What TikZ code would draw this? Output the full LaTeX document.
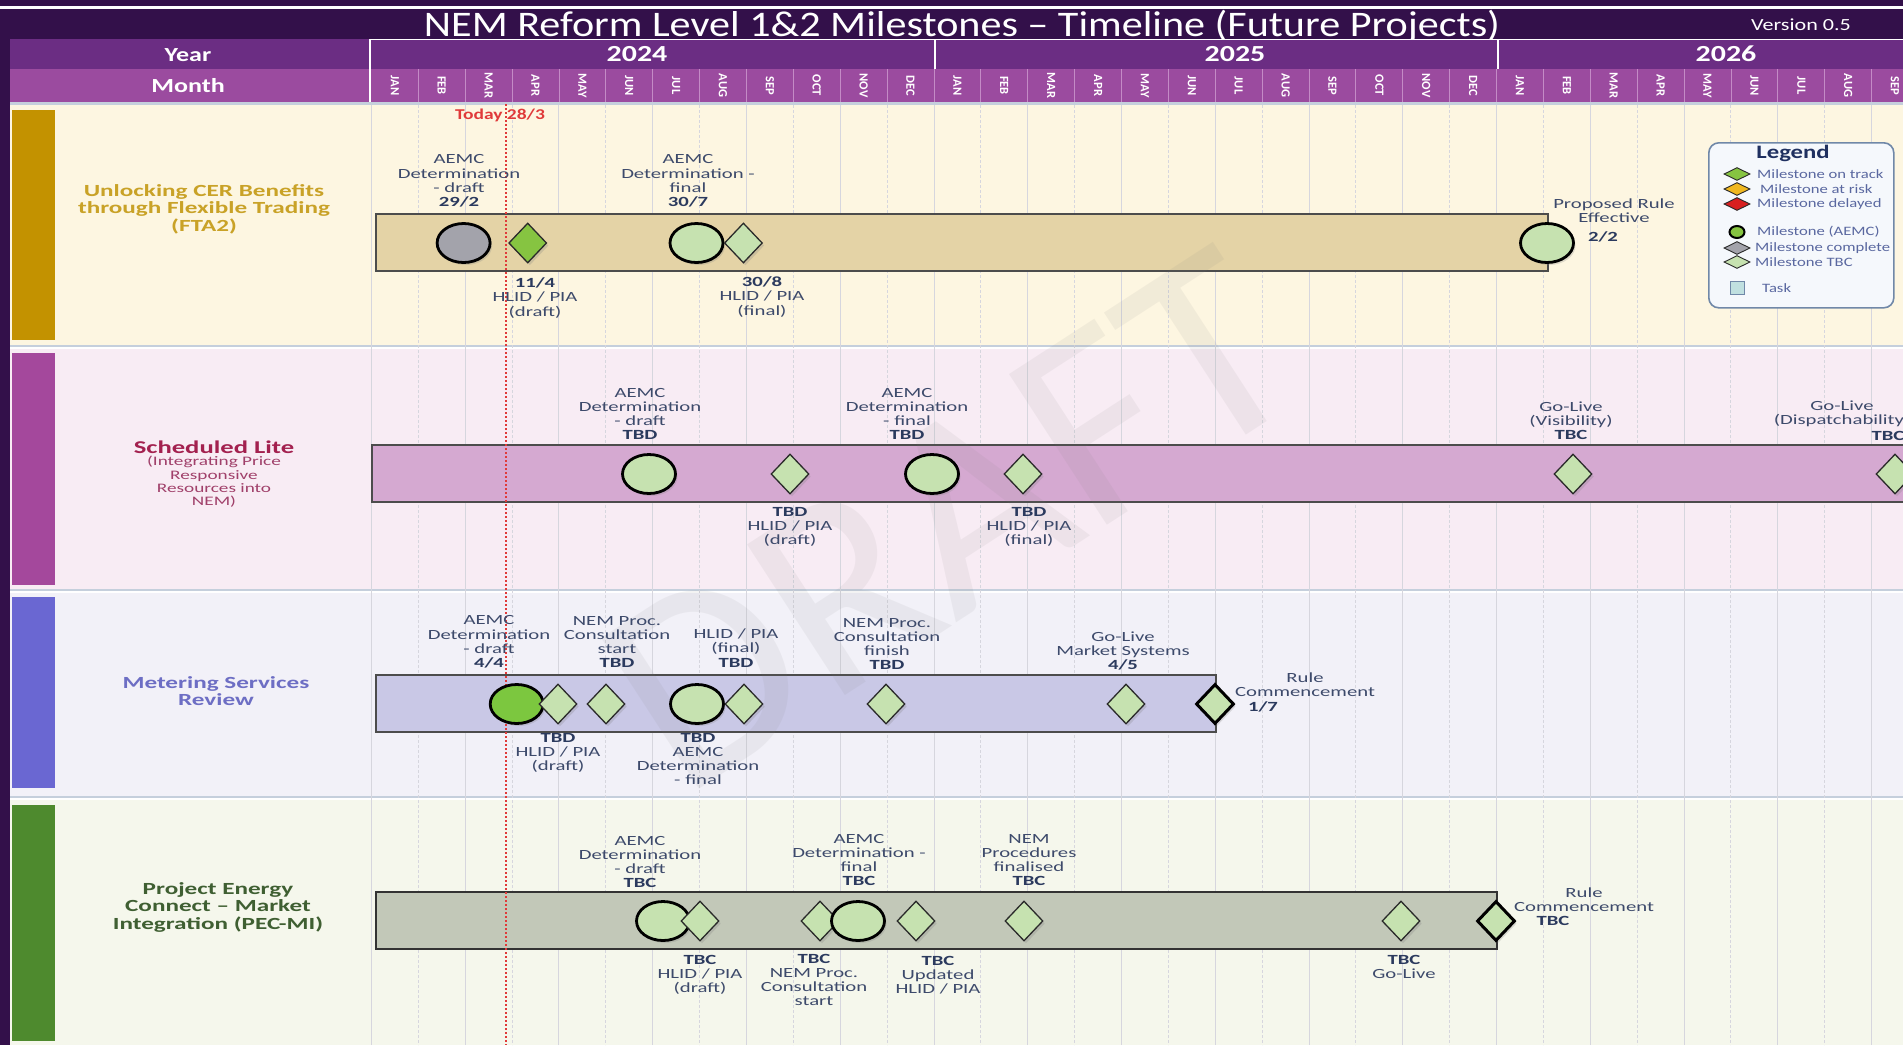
\documentclass[tikz,border=0pt]{standalone}
\usepackage{fontspec}
\setmainfont{Carlito}
\newfontfamily\wide{Carlito}[FakeStretch=1.3]
\newfontfamily\wider{Carlito}[FakeStretch=1.48]
\newfontfamily\tfont{Carlito}[FakeStretch=1.17]
\usetikzlibrary{shapes.geometric,shadows}
\definecolor{bgdark}{HTML}{33104A}
\definecolor{yearrow}{HTML}{6B2D83}
\definecolor{monthrow}{HTML}{9B4B9F}
\definecolor{monthsep}{HTML}{C48BC6}
\definecolor{rowsep}{HTML}{C5CFDC}
\definecolor{gridc}{HTML}{D6D6DE}
\definecolor{rowonebg}{HTML}{FDF6E1}
\definecolor{rowonebar}{HTML}{C39200}
\definecolor{rowonetask}{HTML}{E4D3A6}
\definecolor{rowonetxt}{HTML}{C9A227}
\definecolor{rowtwobg}{HTML}{F8ECF4}
\definecolor{rowtwobar}{HTML}{A4489C}
\definecolor{rowtwotask}{HTML}{D5A9D1}
\definecolor{rowtwotxt}{HTML}{A3214F}
\definecolor{rowtwosub}{HTML}{A0406A}
\definecolor{rowthreebg}{HTML}{F2F1F8}
\definecolor{rowthreebar}{HTML}{6A67D2}
\definecolor{rowthreetask}{HTML}{C9C8E6}
\definecolor{rowthreetxt}{HTML}{6D6EC4}
\definecolor{rowfourbg}{HTML}{F5F7EC}
\definecolor{rowfourbar}{HTML}{4E8A2E}
\definecolor{rowfourtask}{HTML}{C2C8B8}
\definecolor{rowfourtxt}{HTML}{3F5F32}
\definecolor{tbc}{HTML}{C6E2B0}
\definecolor{ontrack}{HTML}{86C441}
\definecolor{brightg}{HTML}{7CC73F}
\definecolor{greyc}{HTML}{A3A3AB}
\definecolor{atrisk}{HTML}{F0B820}
\definecolor{delayed}{HTML}{D82020}
\definecolor{msline}{HTML}{2A2A2A}
\definecolor{labc}{HTML}{3D4A6B}
\definecolor{datec}{HTML}{2B3A5E}
\definecolor{todayc}{HTML}{E03A3A}
\definecolor{legb}{HTML}{7088A8}
\definecolor{legf}{HTML}{F5F8FC}
\definecolor{legt}{HTML}{5A68A0}
\definecolor{legh}{HTML}{1F3060}
\definecolor{taskc}{HTML}{C0E0E0}
\begin{document}
\begin{tikzpicture}[x=1pt,y=-1pt,
  msshadow/.style={drop shadow={shadow xshift=2pt, shadow yshift=-2.5pt, opacity=0.25}},
  dia/.style={diamond, draw=msline, line width=1.3pt, fill=tbc, minimum width=38pt, minimum height=40pt, inner sep=0pt, msshadow},
  diathick/.style={dia, line width=3pt, draw=black},
  circ/.style={ellipse, draw=black, line width=2.8pt, fill=tbc, minimum width=53pt, minimum height=39pt, inner sep=0pt, msshadow},
  taskbar/.style={rectangle, line width=1.5pt, inner sep=0pt, minimum height=57pt, anchor=west},
  lab/.style={font=\wider\fontsize{14}{14.2}\selectfont, text=labc, align=center, inner sep=0pt},
  labdate/.style={font=\wider\bfseries\fontsize{14}{14.2}\selectfont, text=datec, inner sep=0pt},
  rowlab/.style={font=\wider\bfseries\fontsize{17}{17.5}\selectfont, align=center, inner sep=0pt},
  hdr/.style={font=\wide\bfseries\fontsize{20}{20}\selectfont, text=white, inner sep=0pt},
  yr/.style={font=\wide\bfseries\fontsize{23}{23}\selectfont, text=white, inner sep=0pt},
  legdia/.style={diamond, draw=msline, line width=0.9pt, minimum width=26pt, minimum height=13pt, inner sep=0pt},
  legtxt/.style={font=\wide\fontsize{12.8}{13}\selectfont, text=legt, anchor=west, inner sep=0pt}
]
\clip (0,0) rectangle (1903,1045);
\fill[bgdark] (0,0) rectangle (1903,1045);
\fill[white] (0,6) rectangle (1903,8.5);
% title
\node[font={\tfont\fontsize{36}{36}\selectfont}, text=white, inner sep=0pt] (title) at (962,26) {NEM Reform Level 1\&2 Milestones – Timeline (Future Projects)};
\node[font={\wide\fontsize{17}{17}\selectfont}, text=white, inner sep=0pt] (version) at (1801,25) {Version 0.5};
% header
\fill[yearrow] (10,39) rectangle (1903,69);
\fill[monthrow] (10,69) rectangle (1903,102);
\foreach \k in {1,...,33} {
  \pgfmathsetmacro\xx{371.4+46.88*\k}
  \draw[monthsep, line width=0.8pt] (\xx,69) -- (\xx,102);
}
\draw[white, line width=1.5pt] (370,39.5) -- (1903,39.5);
\draw[white, line width=2pt] (370,39) -- (370,102);
\draw[white, line width=2pt] (934.7,39) -- (934.7,69);
\draw[white, line width=2pt] (1497.9,39) -- (1497.9,69);
\node[hdr] (year) at (188,55) {Year};
\node[hdr] (month) at (188,86) {Month};
\node[yr] (y2024) at (637,54) {2024};
\node[yr] (y2025) at (1235,54) {2025};
\node[yr] (y2026) at (1726,54) {2026};
\foreach \m [count=\i from 0] in {JAN,FEB,MAR,APR,MAY,JUN,JUL,AUG,SEP,OCT,NOV,DEC,JAN,FEB,MAR,APR,MAY,JUN,JUL,AUG,SEP,OCT,NOV,DEC,JAN,FEB,MAR,APR,MAY,JUN,JUL,AUG,SEP} {
  \pgfmathsetmacro\xx{371.4+46.88*(\i+0.5)}
  \node[font=\bfseries\fontsize{12.5}{12.5}\selectfont, text=white, rotate=-90, inner sep=0pt] (mon\i) at (\xx,85.5) {\m};
}
\fill[rowsep] (10,102) rectangle (1903,105);
% rows
\fill[rowonebg] (10,105) rectangle (1903,345);
\fill[rowtwobg] (10,349) rectangle (1903,589);
\fill[rowthreebg] (10,593) rectangle (1903,796);
\fill[rowfourbg] (10,800) rectangle (1903,1045);
\fill[white] (10,345) rectangle (1903,349);
\fill[white] (10,589) rectangle (1903,593);
\fill[white] (10,796) rectangle (1903,800);
\draw[rowsep, line width=2pt] (10,346) -- (1903,346);
\draw[rowsep, line width=2pt] (10,590) -- (1903,590);
\draw[rowsep, line width=2pt] (10,797) -- (1903,797);
% grid
\foreach \k in {0,...,33} {
  \pgfmathsetmacro\xx{371.4+46.88*\k}
  \pgfmathtruncatemacro\odd{mod(\k,2)}
  \ifnum\odd=1
    \draw[gridc, line width=0.9pt, dash pattern=on 3pt off 2pt] (\xx,105) -- (\xx,1045);
  \else
    \draw[gridc, line width=0.9pt] (\xx,105) -- (\xx,1045);
  \fi
}
% left colour bars
\fill[rowonebar] (12,110) rectangle (55,340);
\fill[rowtwobar] (12,353) rectangle (55,585);
\fill[rowthreebar] (12,597) rectangle (55,788);
\fill[rowfourbar] (12,805) rectangle (55,1041);
% row labels
\node[rowlab, text=rowonetxt] (lab1) at (204,209) {Unlocking CER Benefits\\through Flexible Trading\\(FTA2)};
\node[font=\wider\bfseries\fontsize{18}{18}\selectfont, text=rowtwotxt, inner sep=0pt] (lab2) at (214,447) {Scheduled Lite};
\node[font=\wider\fontsize{13}{13.4}\selectfont, text=rowtwosub, align=center, inner sep=0pt] (lab2s) at (214,482) {(Integrating Price\\Responsive\\Resources into\\NEM)};
\node[rowlab, text=rowthreetxt] (lab3) at (216,691) {Metering Services\\Review};
\node[rowlab, text=rowfourtxt] (lab4) at (218,907) {Project Energy\\Connect – Market\\Integration (PEC-MI)};
% task bars
\node[taskbar, fill=rowonetask, draw=black!70, minimum width=1172pt] (bar1) at (375,242.5) {};
\node[taskbar, fill=rowtwotask, draw=black!70, minimum width=1560pt] (bar2) at (371,473.5) {};
\node[taskbar, fill=rowthreetask, draw=black!70, minimum width=840pt] (bar3) at (375,703.5) {};
\node[taskbar, fill=rowfourtask, draw=black!80, minimum width=1121pt] (bar4) at (375,920.5) {};
% watermark
\node[font=\fontsize{280}{280}\selectfont, text=gray, text opacity=0.09, rotate=33, inner sep=0pt] (draft) at (950,520) {DRAFT};
% today
\draw[todayc, line width=1.6pt, dash pattern=on 2pt off 2pt] (506,104) -- (506,1045);
\node[font=\wide\bfseries\fontsize{15}{15}\selectfont, text=todayc, inner sep=0pt] (today) at (500,115) {Today 28/3};
% ---- row 1 milestones
\node[circ, fill=greyc] (m1a) at (463.6,243) {};
\node[dia, fill=ontrack] (m1b) at (527.7,243) {};
\node[circ] (m1c) at (696.5,243) {};
\node[dia] (m1d) at (743.4,243) {};
\node[circ] (m1e) at (1547,243) {};
\node[lab] (l1a) at (459,181) {AEMC\\Determination\\- draft\\\textbf{\color{datec}29/2}};
\node[lab] (l1b) at (535,298) {\textbf{\color{datec}11/4}\\HLID / PIA\\(draft)};
\node[lab] (l1c) at (688,181) {AEMC\\Determination -\\final\\\textbf{\color{datec}30/7}};
\node[lab] (l1d) at (762,297) {\textbf{\color{datec}30/8}\\HLID / PIA\\(final)};
\node[lab] (l1e) at (1614,211) {Proposed Rule\\Effective};
\node[labdate] (l1f) at (1603,237) {2/2};
% ---- row 2 milestones
\node[circ] (m2a) at (649,474) {};
\node[dia] (m2b) at (790,474) {};
\node[circ] (m2c) at (932,474) {};
\node[dia] (m2d) at (1023,474) {};
\node[dia] (m2e) at (1573,474) {};
\node[dia] (m2f) at (1895,474) {};
\node[lab] (l2a) at (640,414) {AEMC\\Determination\\- draft\\\textbf{\color{datec}TBD}};
\node[lab] (l2b) at (790,527) {\textbf{\color{datec}TBD}\\HLID / PIA\\(draft)};
\node[lab] (l2c) at (907,414) {AEMC\\Determination\\- final\\\textbf{\color{datec}TBD}};
\node[lab] (l2d) at (1029,527) {\textbf{\color{datec}TBD}\\HLID / PIA\\(final)};
\node[lab] (l2e) at (1571,421) {Go-Live\\(Visibility)\\\textbf{\color{datec}TBC}};
\node[lab] (l2f) at (1842,414) {Go-Live\\(Dispatchability)};
\node[labdate] (l2g) at (1888,436) {TBC};
% ---- row 3 milestones
\node[circ, fill=brightg] (m3a) at (516.7,704) {};
\node[dia] (m3b) at (558,704) {};
\node[dia] (m3c) at (606,704) {};
\node[circ] (m3d) at (697,704) {};
\node[dia] (m3e) at (744,704) {};
\node[dia] (m3f) at (886,704) {};
\node[dia] (m3g) at (1126,704) {};
\node[diathick] (m3h) at (1215,704) {};
\node[lab] (l3a) at (489,642) {AEMC\\Determination\\- draft\\\textbf{\color{datec}4/4}};
\node[lab] (l3b) at (558,753) {\textbf{\color{datec}TBD}\\HLID / PIA\\(draft)};
\node[lab] (l3c) at (617,642) {NEM Proc.\\Consultation\\start\\\textbf{\color{datec}TBD}};
\node[lab] (l3d) at (698,759) {\textbf{\color{datec}TBD}\\AEMC\\Determination\\- final};
\node[lab] (l3e) at (736,648) {HLID / PIA\\(final)\\\textbf{\color{datec}TBD}};
\node[lab] (l3f) at (887,644) {NEM Proc.\\Consultation\\finish\\\textbf{\color{datec}TBD}};
\node[lab] (l3g) at (1123,651) {Go-Live\\Market Systems\\\textbf{\color{datec}4/5}};
\node[lab] (l3h) at (1305,685) {Rule\\Commencement};
\node[labdate] (l3i) at (1263,707) {1/7};
% ---- row 4 milestones
\node[circ] (m4a) at (663,921) {};
\node[dia] (m4b) at (700,921) {};
\node[dia] (m4c) at (820,921) {};
\node[circ] (m4d) at (858,921) {};
\node[dia] (m4e) at (916,921) {};
\node[dia] (m4f) at (1024,921) {};
\node[dia] (m4g) at (1401,921) {};
\node[diathick] (m4h) at (1496,921) {};
\node[lab] (l4a) at (640,862) {AEMC\\Determination\\- draft\\\textbf{\color{datec}TBC}};
\node[lab] (l4b) at (700,975) {\textbf{\color{datec}TBC}\\HLID / PIA\\(draft)};
\node[lab] (l4c) at (814,980) {\textbf{\color{datec}TBC}\\NEM Proc.\\Consultation\\start};
\node[lab] (l4d) at (859,860) {AEMC\\Determination -\\final\\\textbf{\color{datec}TBC}};
\node[lab] (l4e) at (938,975) {\textbf{\color{datec}TBC}\\Updated\\HLID / PIA};
\node[lab] (l4f) at (1029,860) {NEM\\Procedures\\finalised\\\textbf{\color{datec}TBC}};
\node[lab] (l4g) at (1404,967) {\textbf{\color{datec}TBC}\\Go-Live};
\node[lab] (l4h) at (1584,900) {Rule\\Commencement};
\node[labdate] (l4i) at (1553,921) {TBC};
% ---- legend
\node[draw=legb, line width=1.6pt, fill=legf, rounded corners=10pt, minimum width=185pt, minimum height=165pt, anchor=north west, inner sep=0pt] (legend) at (1708,142) {};
\node[font=\wide\bfseries\fontsize{19}{19}\selectfont, text=legh, inner sep=0pt] (legtitle) at (1793,153) {Legend};
\node[legdia, fill=ontrack] (lg1) at (1737,174) {};
\node[legdia, fill=atrisk] (lg2) at (1737,189) {};
\node[legdia, fill=delayed] (lg3) at (1737,204) {};
\node[ellipse, draw=black, line width=2pt, fill=ontrack, minimum width=15pt, minimum height=12pt, inner sep=0pt] (lg4) at (1737,232) {};
\node[legdia, fill=greyc] (lg5) at (1737,248) {};
\node[legdia, fill=tbc] (lg6) at (1737,262) {};
\node[rectangle, draw=legb, fill=taskc, line width=0.8pt, minimum width=14pt, minimum height=13pt, inner sep=0pt] (lg7) at (1737,288) {};
\node[legtxt] (lt1) at (1757,174) {Milestone on track};
\node[legtxt] (lt2) at (1760,189) {Milestone at risk};
\node[legtxt] (lt3) at (1757,204) {Milestone delayed};
\node[legtxt] (lt4) at (1757,232) {Milestone (AEMC)};
\node[legtxt] (lt5) at (1755,248) {Milestone complete};
\node[legtxt] (lt6) at (1755,262) {Milestone TBC};
\node[legtxt] (lt7) at (1762,288) {Task};
\end{tikzpicture}
\end{document}
